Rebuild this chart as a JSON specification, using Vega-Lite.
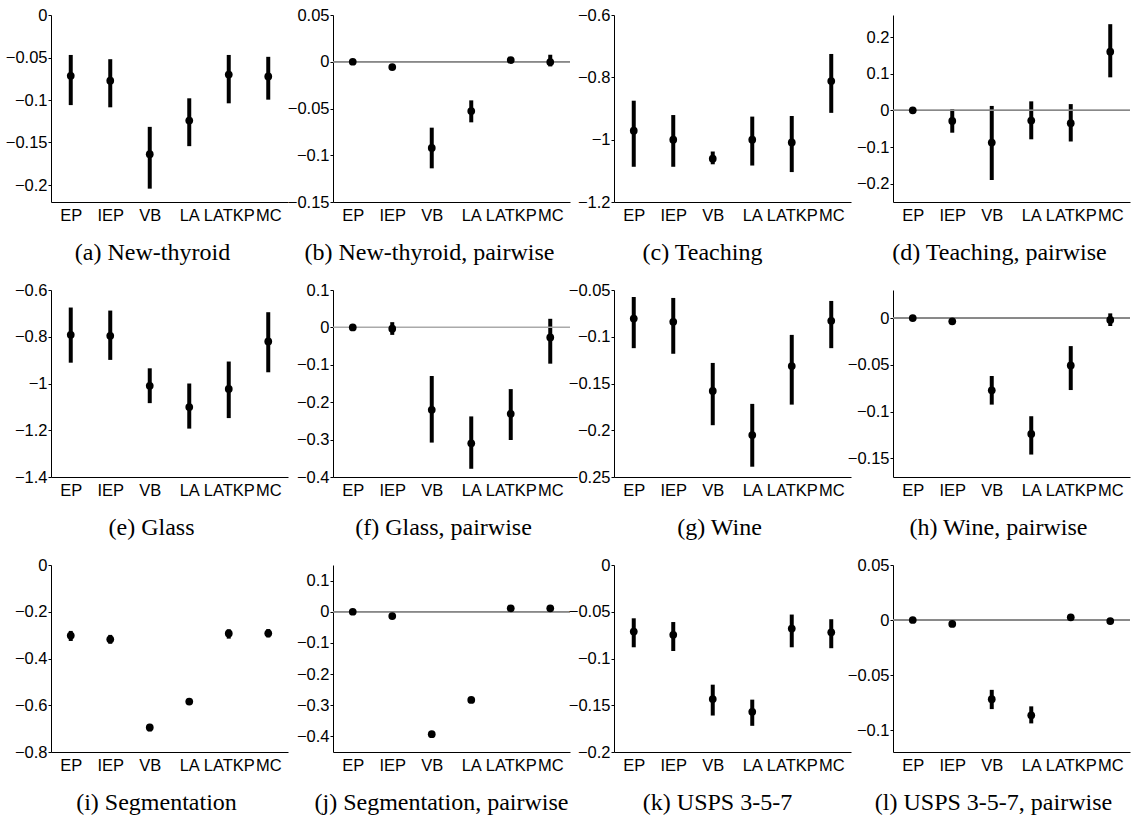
{
"$schema": "https://vega.github.io/schema/vega-lite/v6.json",
"padding": {"left": 0, "top": 7, "right": 0, "bottom": 0},
"background": "white",
"columns": 4,
"spacing": {"row": 17, "column": -15},
"datasets": {"d": [
{"p":"a","m":"EP","v":-0.0715,"lo":-0.106,"hi":-0.047},
{"p":"a","m":"IEP","v":-0.0773,"lo":-0.1086,"hi":-0.052},
{"p":"a","m":"VB","v":-0.1637,"lo":-0.2043,"hi":-0.1316},
{"p":"a","m":"LA","v":-0.1242,"lo":-0.1543,"hi":-0.098},
{"p":"a","m":"LATKP","v":-0.070,"lo":-0.1039,"hi":-0.047},
{"p":"a","m":"MC","v":-0.0723,"lo":-0.0996,"hi":-0.0492},
{"p":"b","m":"EP","v":0,"lo":0,"hi":0},
{"p":"b","m":"IEP","v":-0.0057,"lo":-0.007,"hi":-0.004},
{"p":"b","m":"VB","v":-0.0922,"lo":-0.114,"hi":-0.0705},
{"p":"b","m":"LA","v":-0.0527,"lo":-0.0648,"hi":-0.0413},
{"p":"b","m":"LATKP","v":0.0018,"lo":0.0005,"hi":0.003},
{"p":"b","m":"MC","v":-0.0004,"lo":-0.005,"hi":0.0075},
{"p":"c","m":"EP","v":-0.971,"lo":-1.087,"hi":-0.875},
{"p":"c","m":"IEP","v":-1.0,"lo":-1.087,"hi":-0.921},
{"p":"c","m":"VB","v":-1.061,"lo":-1.079,"hi":-1.038},
{"p":"c","m":"LA","v":-1.0,"lo":-1.083,"hi":-0.926},
{"p":"c","m":"LATKP","v":-1.009,"lo":-1.104,"hi":-0.924},
{"p":"c","m":"MC","v":-0.812,"lo":-0.914,"hi":-0.725},
{"p":"d","m":"EP","v":0,"lo":0,"hi":0},
{"p":"d","m":"IEP","v":-0.029,"lo":-0.061,"hi":0.003},
{"p":"d","m":"VB","v":-0.088,"lo":-0.19,"hi":0.012},
{"p":"d","m":"LA","v":-0.028,"lo":-0.079,"hi":0.0245},
{"p":"d","m":"LATKP","v":-0.035,"lo":-0.085,"hi":0.017},
{"p":"d","m":"MC","v":0.160,"lo":0.090,"hi":0.235},
{"p":"e","m":"EP","v":-0.7915,"lo":-0.911,"hi":-0.675},
{"p":"e","m":"IEP","v":-0.796,"lo":-0.899,"hi":-0.688},
{"p":"e","m":"VB","v":-1.01,"lo":-1.084,"hi":-0.935},
{"p":"e","m":"LA","v":-1.101,"lo":-1.193,"hi":-1.0},
{"p":"e","m":"LATKP","v":-1.023,"lo":-1.148,"hi":-0.906},
{"p":"e","m":"MC","v":-0.82,"lo":-0.952,"hi":-0.695},
{"p":"f","m":"EP","v":0,"lo":0,"hi":0},
{"p":"f","m":"IEP","v":-0.0036,"lo":-0.02,"hi":0.014},
{"p":"f","m":"VB","v":-0.2205,"lo":-0.308,"hi":-0.130},
{"p":"f","m":"LA","v":-0.31,"lo":-0.378,"hi":-0.238},
{"p":"f","m":"LATKP","v":-0.231,"lo":-0.301,"hi":-0.165},
{"p":"f","m":"MC","v":-0.027,"lo":-0.097,"hi":0.023},
{"p":"g","m":"EP","v":-0.0806,"lo":-0.1122,"hi":-0.0575},
{"p":"g","m":"IEP","v":-0.084,"lo":-0.1182,"hi":-0.0585},
{"p":"g","m":"VB","v":-0.158,"lo":-0.1946,"hi":-0.128},
{"p":"g","m":"LA","v":-0.2052,"lo":-0.239,"hi":-0.1718},
{"p":"g","m":"LATKP","v":-0.1313,"lo":-0.1726,"hi":-0.098},
{"p":"g","m":"MC","v":-0.083,"lo":-0.1122,"hi":-0.0617},
{"p":"h","m":"EP","v":0,"lo":0,"hi":0},
{"p":"h","m":"IEP","v":-0.0035,"lo":-0.0045,"hi":-0.0025},
{"p":"h","m":"VB","v":-0.0773,"lo":-0.0926,"hi":-0.062},
{"p":"h","m":"LA","v":-0.124,"lo":-0.146,"hi":-0.105},
{"p":"h","m":"LATKP","v":-0.0507,"lo":-0.077,"hi":-0.030},
{"p":"h","m":"MC","v":-0.002,"lo":-0.0085,"hi":0.005},
{"p":"i","m":"EP","v":-0.302,"lo":-0.325,"hi":-0.282},
{"p":"i","m":"IEP","v":-0.318,"lo":-0.337,"hi":-0.299},
{"p":"i","m":"VB","v":-0.695,"lo":-0.712,"hi":-0.68},
{"p":"i","m":"LA","v":-0.584,"lo":-0.598,"hi":-0.572},
{"p":"i","m":"LATKP","v":-0.293,"lo":-0.315,"hi":-0.275},
{"p":"i","m":"MC","v":-0.292,"lo":-0.310,"hi":-0.274},
{"p":"j","m":"EP","v":0,"lo":0,"hi":0},
{"p":"j","m":"IEP","v":-0.014,"lo":-0.016,"hi":-0.012},
{"p":"j","m":"VB","v":-0.393,"lo":-0.396,"hi":-0.390},
{"p":"j","m":"LA","v":-0.283,"lo":-0.286,"hi":-0.280},
{"p":"j","m":"LATKP","v":0.011,"lo":0.009,"hi":0.013},
{"p":"j","m":"MC","v":0.011,"lo":0.009,"hi":0.013},
{"p":"k","m":"EP","v":-0.0712,"lo":-0.088,"hi":-0.057},
{"p":"k","m":"IEP","v":-0.0747,"lo":-0.092,"hi":-0.061},
{"p":"k","m":"VB","v":-0.1434,"lo":-0.161,"hi":-0.128},
{"p":"k","m":"LA","v":-0.157,"lo":-0.172,"hi":-0.144},
{"p":"k","m":"LATKP","v":-0.068,"lo":-0.088,"hi":-0.053},
{"p":"k","m":"MC","v":-0.072,"lo":-0.089,"hi":-0.058},
{"p":"l","m":"EP","v":0,"lo":0,"hi":0},
{"p":"l","m":"IEP","v":-0.0036,"lo":-0.0038,"hi":-0.0034},
{"p":"l","m":"VB","v":-0.072,"lo":-0.081,"hi":-0.0635},
{"p":"l","m":"LA","v":-0.0867,"lo":-0.094,"hi":-0.0785},
{"p":"l","m":"LATKP","v":0.0024,"lo":0.0022,"hi":0.0026},
{"p":"l","m":"MC","v":-0.001,"lo":-0.0012,"hi":-0.0008}
]},
"concat": [
{"width":237,"height":187,"title":{"text":"(a)  New-thyroid","dx":-17},"data":{"name":"d"},"transform":[{"filter":"datum.p==='a'"}],
 "layer":[
  {"mark":{"type":"rule","strokeWidth":4,"color":"#000"},"encoding":{"x":{"field":"m","type":"nominal","sort":["EP","IEP","VB","LA","LATKP","MC"],"scale":{"type":"point","padding":0.5},"axis":{"title":null}},"y":{"field":"lo","type":"quantitative","scale":{"domain":[-0.22,0],"nice":false,"zero":false},"axis":{"values":[0,-0.05,-0.1,-0.15,-0.2],"tickCount":12,"title":null,"labelOverlap":false,"minExtent":51,"maxExtent":51}},"y2":{"field":"hi"}}},
  {"mark":{"type":"point","filled":true,"size":60,"color":"#000","opacity":1},"encoding":{"x":{"field":"m","type":"nominal","sort":["EP","IEP","VB","LA","LATKP","MC"]},"y":{"field":"v","type":"quantitative"}}}
 ]},
{"width":237,"height":187,"title":{"text":"(b)  New-thyroid, pairwise","dx":-22},"data":{"name":"d"},"transform":[{"filter":"datum.p==='b'"}],
 "layer":[
  {"mark":{"type":"rule","strokeWidth":4,"color":"#000"},"encoding":{"x":{"field":"m","type":"nominal","sort":["EP","IEP","VB","LA","LATKP","MC"],"scale":{"type":"point","padding":0.5},"axis":{"title":null}},"y":{"field":"lo","type":"quantitative","scale":{"domain":[-0.15,0.05],"nice":false,"zero":false},"axis":{"values":[0.05,0,-0.05,-0.1,-0.15],"tickCount":12,"title":null,"labelOverlap":false,"minExtent":60,"maxExtent":60}},"y2":{"field":"hi"}}},
  {"mark":{"type":"rule","color":"#888","strokeWidth":1},"encoding":{"y":{"datum":0}}},
  {"mark":{"type":"point","filled":true,"size":60,"color":"#000","opacity":1},"encoding":{"x":{"field":"m","type":"nominal","sort":["EP","IEP","VB","LA","LATKP","MC"]},"y":{"field":"v","type":"quantitative"}}}
 ]},
{"width":237,"height":187,"title":{"text":"(c)  Teaching","dx":-30},"data":{"name":"d"},"transform":[{"filter":"datum.p==='c'"}],
 "layer":[
  {"mark":{"type":"rule","strokeWidth":4,"color":"#000"},"encoding":{"x":{"field":"m","type":"nominal","sort":["EP","IEP","VB","LA","LATKP","MC"],"scale":{"type":"point","padding":0.5},"axis":{"title":null}},"y":{"field":"lo","type":"quantitative","scale":{"domain":[-1.2,-0.6],"nice":false,"zero":false},"axis":{"values":[-0.6,-0.8,-1,-1.2],"tickCount":12,"title":null,"labelOverlap":false,"minExtent":57,"maxExtent":57}},"y2":{"field":"hi"}}},
  {"mark":{"type":"point","filled":true,"size":60,"color":"#000","opacity":1},"encoding":{"x":{"field":"m","type":"nominal","sort":["EP","IEP","VB","LA","LATKP","MC"]},"y":{"field":"v","type":"quantitative"}}}
 ]},
{"width":237,"height":187,"title":{"text":"(d)  Teaching, pairwise","dx":-12},"data":{"name":"d"},"transform":[{"filter":"datum.p==='d'"}],
 "layer":[
  {"mark":{"type":"rule","strokeWidth":4,"color":"#000"},"encoding":{"x":{"field":"m","type":"nominal","sort":["EP","IEP","VB","LA","LATKP","MC"],"scale":{"type":"point","padding":0.5},"axis":{"title":null}},"y":{"field":"lo","type":"quantitative","scale":{"domain":[-0.25,0.26],"nice":false,"zero":false},"axis":{"values":[0.2,0.1,0,-0.1,-0.2],"tickCount":12,"title":null,"labelOverlap":false,"minExtent":56,"maxExtent":56}},"y2":{"field":"hi"}}},
  {"mark":{"type":"rule","color":"#888","strokeWidth":1},"encoding":{"y":{"datum":0}}},
  {"mark":{"type":"point","filled":true,"size":60,"color":"#000","opacity":1},"encoding":{"x":{"field":"m","type":"nominal","sort":["EP","IEP","VB","LA","LATKP","MC"]},"y":{"field":"v","type":"quantitative"}}}
 ]},
{"width":237,"height":187,"title":{"text":"(e)  Glass","dx":-18},"data":{"name":"d"},"transform":[{"filter":"datum.p==='e'"}],
 "layer":[
  {"mark":{"type":"rule","strokeWidth":4,"color":"#000"},"encoding":{"x":{"field":"m","type":"nominal","sort":["EP","IEP","VB","LA","LATKP","MC"],"scale":{"type":"point","padding":0.5},"axis":{"title":null}},"y":{"field":"lo","type":"quantitative","scale":{"domain":[-1.4,-0.6],"nice":false,"zero":false},"axis":{"values":[-0.6,-0.8,-1,-1.2,-1.4],"tickCount":12,"title":null,"labelOverlap":false,"minExtent":42,"maxExtent":42}},"y2":{"field":"hi"}}},
  {"mark":{"type":"point","filled":true,"size":60,"color":"#000","opacity":1},"encoding":{"x":{"field":"m","type":"nominal","sort":["EP","IEP","VB","LA","LATKP","MC"]},"y":{"field":"v","type":"quantitative"}}}
 ]},
{"width":237,"height":187,"title":{"text":"(f)  Glass, pairwise","dx":-8},"data":{"name":"d"},"transform":[{"filter":"datum.p==='f'"}],
 "layer":[
  {"mark":{"type":"rule","strokeWidth":4,"color":"#000"},"encoding":{"x":{"field":"m","type":"nominal","sort":["EP","IEP","VB","LA","LATKP","MC"],"scale":{"type":"point","padding":0.5},"axis":{"title":null}},"y":{"field":"lo","type":"quantitative","scale":{"domain":[-0.4,0.1],"nice":false,"zero":false},"axis":{"values":[0.1,0,-0.1,-0.2,-0.3,-0.4],"tickCount":12,"title":null,"labelOverlap":false,"minExtent":43,"maxExtent":43}},"y2":{"field":"hi"}}},
  {"mark":{"type":"rule","color":"#aaa","strokeWidth":1},"encoding":{"y":{"datum":0}}},
  {"mark":{"type":"point","filled":true,"size":60,"color":"#000","opacity":1},"encoding":{"x":{"field":"m","type":"nominal","sort":["EP","IEP","VB","LA","LATKP","MC"]},"y":{"field":"v","type":"quantitative"}}}
 ]},
{"width":237,"height":187,"title":{"text":"(g)  Wine","dx":-13},"data":{"name":"d"},"transform":[{"filter":"datum.p==='g'"}],
 "layer":[
  {"mark":{"type":"rule","strokeWidth":4,"color":"#000"},"encoding":{"x":{"field":"m","type":"nominal","sort":["EP","IEP","VB","LA","LATKP","MC"],"scale":{"type":"point","padding":0.5},"axis":{"title":null}},"y":{"field":"lo","type":"quantitative","scale":{"domain":[-0.25,-0.05],"nice":false,"zero":false},"axis":{"values":[-0.05,-0.1,-0.15,-0.2,-0.25],"tickCount":12,"title":null,"labelOverlap":false,"minExtent":48,"maxExtent":48}},"y2":{"field":"hi"}}},
  {"mark":{"type":"point","filled":true,"size":60,"color":"#000","opacity":1},"encoding":{"x":{"field":"m","type":"nominal","sort":["EP","IEP","VB","LA","LATKP","MC"]},"y":{"field":"v","type":"quantitative"}}}
 ]},
{"width":237,"height":187,"title":{"text":"(h)  Wine, pairwise","dx":-13},"data":{"name":"d"},"transform":[{"filter":"datum.p==='h'"}],
 "layer":[
  {"mark":{"type":"rule","strokeWidth":4,"color":"#000"},"encoding":{"x":{"field":"m","type":"nominal","sort":["EP","IEP","VB","LA","LATKP","MC"],"scale":{"type":"point","padding":0.5},"axis":{"title":null}},"y":{"field":"lo","type":"quantitative","scale":{"domain":[-0.17,0.03],"nice":false,"zero":false},"axis":{"values":[0,-0.05,-0.1,-0.15],"tickCount":12,"title":null,"labelOverlap":false,"minExtent":57,"maxExtent":57}},"y2":{"field":"hi"}}},
  {"mark":{"type":"rule","color":"#888","strokeWidth":1},"encoding":{"y":{"datum":0}}},
  {"mark":{"type":"point","filled":true,"size":60,"color":"#000","opacity":1},"encoding":{"x":{"field":"m","type":"nominal","sort":["EP","IEP","VB","LA","LATKP","MC"]},"y":{"field":"v","type":"quantitative"}}}
 ]},
{"width":237,"height":187,"title":{"text":"(i)  Segmentation","dx":-13},"data":{"name":"d"},"transform":[{"filter":"datum.p==='i'"}],
 "layer":[
  {"mark":{"type":"rule","strokeWidth":4,"color":"#000"},"encoding":{"x":{"field":"m","type":"nominal","sort":["EP","IEP","VB","LA","LATKP","MC"],"scale":{"type":"point","padding":0.5},"axis":{"title":null}},"y":{"field":"lo","type":"quantitative","scale":{"domain":[-0.8,0],"nice":false,"zero":false},"axis":{"values":[0,-0.2,-0.4,-0.6,-0.8],"tickCount":12,"title":null,"labelOverlap":false,"minExtent":43,"maxExtent":43}},"y2":{"field":"hi"}}},
  {"mark":{"type":"point","filled":true,"size":60,"color":"#000","opacity":1},"encoding":{"x":{"field":"m","type":"nominal","sort":["EP","IEP","VB","LA","LATKP","MC"]},"y":{"field":"v","type":"quantitative"}}}
 ]},
{"width":237,"height":187,"title":{"text":"(j)  Segmentation, pairwise","dx":-10},"data":{"name":"d"},"transform":[{"filter":"datum.p==='j'"}],
 "layer":[
  {"mark":{"type":"rule","strokeWidth":4,"color":"#000"},"encoding":{"x":{"field":"m","type":"nominal","sort":["EP","IEP","VB","LA","LATKP","MC"],"scale":{"type":"point","padding":0.5},"axis":{"title":null}},"y":{"field":"lo","type":"quantitative","scale":{"domain":[-0.45,0.15],"nice":false,"zero":false},"axis":{"values":[0.1,0,-0.1,-0.2,-0.3,-0.4],"tickCount":12,"title":null,"labelOverlap":false,"minExtent":42,"maxExtent":42}},"y2":{"field":"hi"}}},
  {"mark":{"type":"rule","color":"#888","strokeWidth":1},"encoding":{"y":{"datum":0}}},
  {"mark":{"type":"point","filled":true,"size":60,"color":"#000","opacity":1},"encoding":{"x":{"field":"m","type":"nominal","sort":["EP","IEP","VB","LA","LATKP","MC"]},"y":{"field":"v","type":"quantitative"}}}
 ]},
{"width":237,"height":187,"title":{"text":"(k)  USPS 3-5-7","dx":-15},"data":{"name":"d"},"transform":[{"filter":"datum.p==='k'"}],
 "layer":[
  {"mark":{"type":"rule","strokeWidth":4,"color":"#000"},"encoding":{"x":{"field":"m","type":"nominal","sort":["EP","IEP","VB","LA","LATKP","MC"],"scale":{"type":"point","padding":0.5},"axis":{"title":null}},"y":{"field":"lo","type":"quantitative","scale":{"domain":[-0.2,0],"nice":false,"zero":false},"axis":{"values":[0,-0.05,-0.1,-0.15,-0.2],"tickCount":12,"title":null,"labelOverlap":false,"minExtent":50,"maxExtent":50}},"y2":{"field":"hi"}}},
  {"mark":{"type":"point","filled":true,"size":60,"color":"#000","opacity":1},"encoding":{"x":{"field":"m","type":"nominal","sort":["EP","IEP","VB","LA","LATKP","MC"]},"y":{"field":"v","type":"quantitative"}}}
 ]},
{"width":237,"height":187,"title":{"text":"(l)  USPS 3-5-7, pairwise","dx":-18},"data":{"name":"d"},"transform":[{"filter":"datum.p==='l'"}],
 "layer":[
  {"mark":{"type":"rule","strokeWidth":4,"color":"#000"},"encoding":{"x":{"field":"m","type":"nominal","sort":["EP","IEP","VB","LA","LATKP","MC"],"scale":{"type":"point","padding":0.5},"axis":{"title":null}},"y":{"field":"lo","type":"quantitative","scale":{"domain":[-0.12,0.05],"nice":false,"zero":false},"axis":{"values":[0.05,0,-0.05,-0.1],"tickCount":12,"title":null,"labelOverlap":false,"minExtent":57,"maxExtent":57}},"y2":{"field":"hi"}}},
  {"mark":{"type":"rule","color":"#888","strokeWidth":1},"encoding":{"y":{"datum":0}}},
  {"mark":{"type":"point","filled":true,"size":60,"color":"#000","opacity":1},"encoding":{"x":{"field":"m","type":"nominal","sort":["EP","IEP","VB","LA","LATKP","MC"]},"y":{"field":"v","type":"quantitative"}}}
 ]}
],
"config": {
 "view": {"stroke": null},
 "axis": {"grid": false, "domainColor": "#000", "domainWidth": 1, "labelFont": "Liberation Sans", "labelFontSize": 16.5, "labelColor": "#000", "tickColor": "#000", "labelOverlap": false, "labelBound": false},
 "axisX": {"ticks": false, "labelAngle": 0, "labelPadding": 5, "labelOverlap": false},
 "axisY": {"tickSize": 3, "labelPadding": 1, "labelOverlap": false, "labelExpr": "format(datum.value, '~g')"},
 "title": {"orient": "bottom", "font": "Liberation Serif", "fontSize": 24, "fontWeight": "normal", "color": "#000", "offset": 17, "anchor": "middle", "frame": "group"}
}
}
